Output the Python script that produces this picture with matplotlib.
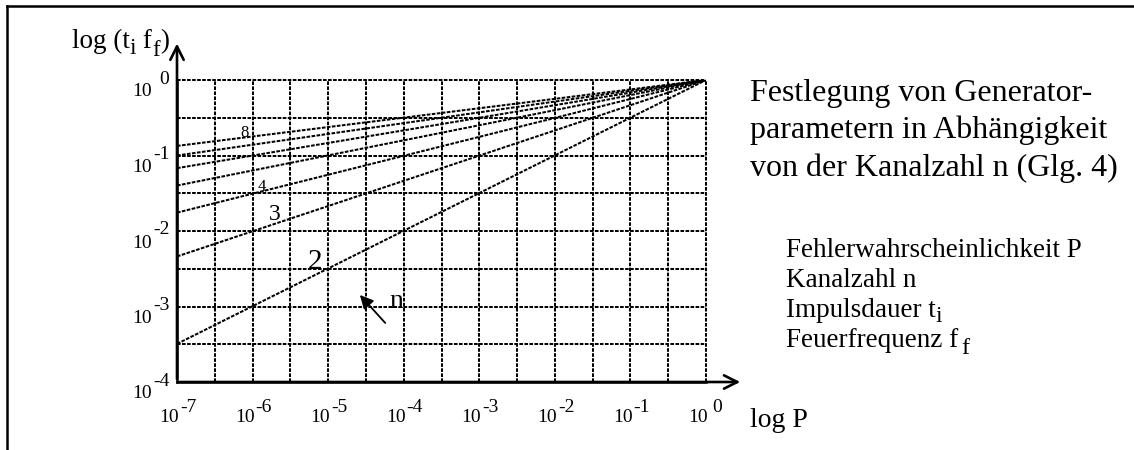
import matplotlib
matplotlib.use("Agg")
import matplotlib.pyplot as plt
from matplotlib.lines import Line2D
from matplotlib.transforms import offset_copy

plt.rcParams['font.family'] = ['Liberation Serif', 'DejaVu Serif']

# ---- data ----
n_values = [2, 3, 4, 5, 6, 7, 8]
P_start = 1e-7
P_end = 1.0
y_at_P_start = [3.2e-4, 4.6e-3, 1.75e-2, 4.0e-2, 6.8e-2, 1.0e-1, 1.34e-1]
y_at_P_end = [1.0, 1.0, 1.0, 1.0, 1.0, 1.0, 1.0]
x_tick_exp = [-7, -6, -5, -4, -3, -2, -1, 0]
y_tick_exp = [-4, -3, -2, -1, 0]
curve_labels = ["8", "4", "3", "2"]

W, H = 1134, 450
fig = plt.figure(figsize=(W / 100, H / 100), dpi=100)
ax = fig.add_axes([177 / W, 1 - 382 / H, 529 / W, 302 / H])
ax.set_xscale('log')
ax.set_yscale('log')
ax.set_xlim(1e-7, 1)
ax.set_ylim(1e-4, 1)
ax.tick_params(which='both', length=0, labelbottom=False, labelleft=False)
for s in ['top', 'right']:
    ax.spines[s].set_visible(False)
for s in ['left', 'bottom']:
    ax.spines[s].set_linewidth(1.8)

dash = (0, (1.8, 0.7))
# half-decade grid
for k in range(-13, 1):
    ax.axvline(10 ** (k / 2), color='black', lw=1.45, ls=dash, clip_on=False, zorder=1)
for k in range(-7, 1):
    ax.axhline(10 ** (k / 2), color='black', lw=1.45, ls=dash, clip_on=False, zorder=1)

# curves
for ys, ye in zip(y_at_P_start, y_at_P_end):
    ax.plot([P_start, P_end], [ys, ye], color='black', lw=1.45, ls=dash, zorder=2)

# curve labels
lab_pos = [(-6.10, -0.70, 12), (-5.875, -1.417, 12), (-5.70, -1.775, 17), (-5.17, -2.41, 21)]
for t, (lx, ly, fs) in zip(curve_labels, lab_pos):
    ax.text(10 ** lx, 10 ** ly, t, fontsize=fs, ha='center', va='center', zorder=3)
ax.text(10 ** -4.10, 10 ** -2.94, "n", fontsize=20, ha='center', va='center', zorder=3)
ax.annotate("", xy=(10 ** -4.605, 10 ** -2.82), xytext=(10 ** -4.22, 10 ** -3.245),
            arrowprops=dict(arrowstyle='-|>', color='black', lw=1.3, mutation_scale=20))

# axis arrows
ax.annotate("", xy=(1.07, 0), xytext=(0, 0), xycoords='axes fraction',
            arrowprops=dict(arrowstyle='->', color='black', lw=1.9, mutation_scale=24))
ax.annotate("", xy=(0, 1.13), xytext=(0, 0), xycoords='axes fraction',
            arrowprops=dict(arrowstyle='->', color='black', lw=1.9, mutation_scale=24))

# tick labels (10 with full-size exponent)
fs_tick = 14
for e in x_tick_exp:
    tr10 = offset_copy(ax.transData, fig=fig, x=2, y=-35, units='dots')
    ax.text(10.0 ** e, 1e-4, "10", transform=tr10, fontsize=fs_tick, ha='right', va='center', clip_on=False)
    ex = 6 if e == 0 else 3
    tre = offset_copy(ax.transData, fig=fig, x=ex, y=-26, units='dots')
    ax.text(10.0 ** e, 1e-4, str(e), transform=tre, fontsize=fs_tick, ha='left', va='center', clip_on=False)
for e in y_tick_exp:
    tr10 = offset_copy(ax.transData, fig=fig, x=-25, y=-12, units='dots')
    ax.text(1e-7, 10.0 ** e, "10", transform=tr10, fontsize=fs_tick, ha='right', va='center', clip_on=False)
    ex = -18 if e == 0 else -24
    tre = offset_copy(ax.transData, fig=fig, x=ex, y=1, units='dots')
    ax.text(1e-7, 10.0 ** e, str(e), transform=tre, fontsize=fs_tick, ha='left', va='center', clip_on=False)

renderer = fig.canvas.get_renderer()


def chain(x_px, base_px, segments, fs):
    """Draw text segments in a row; each segment = (text, drop_px, size_factor, gap_px)."""
    x = x_px
    for txt, drop, sf, gap in segments:
        x += gap
        t = fig.text(x / W, 1 - (base_px + drop) / H, txt, fontsize=fs * sf,
                     ha='left', va='baseline')
        bb = t.get_window_extent(renderer=renderer)
        x += bb.width


# axis titles
chain(72, 48, [("log (t", 0, 1, 0), ("i", 6, 0.85, 0), (" f", 0, 1, 0), ("f", 8, 0.85, 0), (")", 0, 1, 0)], 19.5)
fig.text(750 / W, 1 - 427 / H, "log P", fontsize=20, ha='left', va='baseline')

# title block
title_lines = ["Festlegung von Generator-", "parametern in Abhängigkeit", "von der Kanalzahl n (Glg. 4)"]
for i, t in enumerate(title_lines):
    fig.text(750 / W, 1 - (93 + 37.5 * i) / H, t, fontsize=23, ha='left', va='center')

leg_base = [257, 287, 317, 347]
chain(786, leg_base[0], [("Fehlerwahrscheinlichkeit P", 0, 1, 0)], 19.5)
chain(786, leg_base[1], [("Kanalzahl n", 0, 1, 0)], 19.5)
chain(786, leg_base[2], [("Impulsdauer t", 0, 1, 0), ("i", 5, 0.85, 0)], 19.5)
chain(786, leg_base[3], [("Feuerfrequenz f", 0, 1, 0), ("f", 7, 0.9, 3)], 19.5)

# frame (top and left)
fig.add_artist(Line2D([7 / W, 1], [1 - 6 / H, 1 - 6 / H], color='black', lw=1.8, transform=fig.transFigure))
fig.add_artist(Line2D([7 / W, 7 / W], [0, 1 - 6 / H], color='black', lw=1.8, transform=fig.transFigure))

fig.savefig("out.png", dpi=100)
